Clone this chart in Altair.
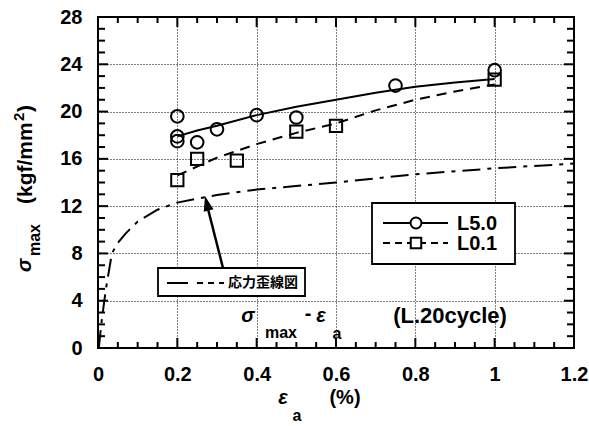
import altair as alt
import pandas as pd

# Measured maximum stress (kgf/mm2) against strain amplitude (%)
l50_strain = [0.2, 0.2, 0.2, 0.25, 0.3, 0.4, 0.5, 0.75, 1.0]
l50_stress = [19.6, 17.9, 17.5, 17.4, 18.5, 19.7, 19.5, 22.2, 23.5]
l01_strain = [0.2, 0.25, 0.35, 0.5, 0.6, 1.0]
l01_stress = [14.2, 16.0, 15.85, 18.3, 18.8, 22.7]

# Trend curves
l50_fit_strain = [0.2, 0.25, 0.3, 0.4, 0.5, 0.6, 0.7, 0.8, 0.9, 1.0]
l50_fit_stress = [17.9, 18.4, 18.8, 19.7, 20.4, 21.0, 21.6, 22.1, 22.45, 22.75]
l01_fit_strain = [0.2, 0.3, 0.4, 0.5, 0.6, 0.7, 0.8, 0.9, 1.0]
l01_fit_stress = [14.6, 16.1, 17.25, 18.2, 19.0, 20.1, 21.0, 21.7, 22.3]

# Monotonic stress-strain curve
ss_strain = [0.002, 0.01, 0.02, 0.03, 0.035, 0.05, 0.07, 0.1, 0.15, 0.2, 0.3, 0.4, 0.6, 0.8, 1.0, 1.2]
ss_stress = [0.0, 2.5, 5.0, 7.0, 8.0, 8.9, 9.7, 10.7, 11.7, 12.3, 12.95, 13.4, 14.0, 14.7, 15.2, 15.6]

# Axis ticks
x_major = [0, 0.2, 0.4, 0.6, 0.8, 1.0, 1.2]
y_major = [0, 4, 8, 12, 16, 20, 24, 28]
x_minor = [0.05, 0.1, 0.15, 0.25, 0.3, 0.35, 0.45, 0.5, 0.55, 0.65, 0.7, 0.75,
           0.85, 0.9, 0.95, 1.05, 1.1, 1.15]
y_minor = [v for v in range(1, 28) if v % 4 != 0]

W, H = 476, 331
LEFT, TOP = 98, 17
FONT = "Liberation Sans"
CJK = "Noto Sans CJK JP"


def px(x):
    return x - LEFT


def py(y):
    return y - TOP


xscale = alt.Scale(domain=[0, 1.2], nice=False, zero=False)
yscale = alt.Scale(domain=[0, 28], nice=False, zero=False)

xaxis = alt.Axis(values=x_major, format="~g", grid=True, gridDash=[1, 2], gridColor="black",
                 gridOpacity=1, gridWidth=1, ticks=False, tickSize=0, domain=False,
                 labelFont=FONT, labelFontSize=20, labelFontWeight="bold", labelColor="black",
                 labelPadding=16, title=None, labelFlush=False)
yaxis = alt.Axis(values=y_major, grid=True, gridDash=[1, 2], gridColor="black",
                 gridOpacity=1, gridWidth=1, ticks=False, tickSize=0, domain=False,
                 labelFont=FONT, labelFontSize=20, labelFontWeight="bold", labelColor="black",
                 labelPadding=16, title=None, labelFlush=False)


def X(field):
    return alt.X(field, type="quantitative", scale=xscale, axis=xaxis)


def Y(field):
    return alt.Y(field, type="quantitative", scale=yscale, axis=yaxis)


pts50 = pd.DataFrame({"x": l50_strain, "y": l50_stress})
pts01 = pd.DataFrame({"x": l01_strain, "y": l01_stress})
fit50 = pd.DataFrame({"x": l50_fit_strain, "y": l50_fit_stress})
fit01 = pd.DataFrame({"x": l01_fit_strain, "y": l01_fit_stress})
ss = pd.DataFrame({"x": ss_strain, "y": ss_stress})

layers = []

# curves
layers.append(alt.Chart(ss).mark_line(color="black", strokeWidth=2, strokeDash=[18, 7, 4, 7])
              .encode(x=X("x"), y=Y("y"), order="x:Q"))
layers.append(alt.Chart(fit01).mark_line(color="black", strokeWidth=2, strokeDash=[10, 7])
              .encode(x=X("x"), y=Y("y")))
layers.append(alt.Chart(fit50).mark_line(color="black", strokeWidth=2)
              .encode(x=X("x"), y=Y("y")))

# markers
layers.append(alt.Chart(pts50).mark_point(shape="circle", filled=False, color="black",
                                          strokeWidth=2, size=160, opacity=1)
              .encode(x=X("x"), y=Y("y")))
layers.append(alt.Chart(pts01).mark_point(shape="square", filled=False, color="black",
                                          strokeWidth=2, size=150, opacity=1)
              .encode(x=X("x"), y=Y("y")))


# inward ticks on all four sides
def xticks(vals, length):
    d = pd.DataFrame({"t": vals})
    out = []
    for yc in (H - length / 2, length / 2):
        out.append(alt.Chart(d).mark_tick(color="black", orient="vertical", size=length,
                                          thickness=2, opacity=1)
                   .encode(x=X("t"), y=alt.value(yc)))
    return out


def yticks(vals, length):
    d = pd.DataFrame({"t": vals})
    out = []
    for xc in (length / 2, W - length / 2):
        out.append(alt.Chart(d).mark_tick(color="black", orient="horizontal", size=length,
                                          thickness=2, opacity=1)
                   .encode(y=Y("t"), x=alt.value(xc)))
    return out


layers += xticks(x_major, 10) + xticks(x_minor, 6)
layers += yticks(y_major, 10) + yticks(y_minor, 7)

one = pd.DataFrame({"k": [0]})


def rect(x1, y1, x2, y2, sw=1.8):
    return alt.Chart(one).mark_rect(fill="white", stroke="black", strokeWidth=sw).encode(
        x=alt.value(px(x1)), x2=alt.value(px(x2)), y=alt.value(py(y1)), y2=alt.value(py(y2)))


def hline(x1, x2, y, dash=None, sw=2):
    kw = {"color": "black", "strokeWidth": sw}
    if dash:
        kw["strokeDash"] = dash
    return alt.Chart(one).mark_rule(**kw).encode(
        x=alt.value(px(x1)), x2=alt.value(px(x2)), y=alt.value(py(y)))


def text(s, x, y, size=20, align="center", baseline="middle", style="normal",
         weight="bold", angle=0, font=FONT):
    return alt.Chart(one).mark_text(text=s, font=font, fontSize=size, fontWeight=weight,
                                    fontStyle=style, align=align, baseline=baseline,
                                    angle=angle, color="black").encode(
        x=alt.value(px(x)), y=alt.value(py(y)))


# series key
layers.append(rect(372, 203, 515, 264))
layers.append(hline(383, 448, 223))
layers.append(alt.Chart(one).mark_point(shape="circle", filled=True, fill="white", stroke="black",
                                        strokeWidth=2, size=120, opacity=1)
              .encode(x=alt.value(px(416)), y=alt.value(py(223))))
layers.append(text("L5.0", 457, 224, align="left"))
layers.append(hline(383, 448, 243, dash=[7, 5]))
layers.append(alt.Chart(one).mark_point(shape="square", filled=True, fill="white", stroke="black",
                                        strokeWidth=2, size=110, opacity=1)
              .encode(x=alt.value(px(416)), y=alt.value(py(243))))
layers.append(text("L0.1", 457, 244, align="left"))

# stress-strain curve key with arrow
layers.append(alt.Chart(one).mark_rule(color="black", strokeWidth=2.5).encode(
    x=alt.value(px(223)), x2=alt.value(px(207)), y=alt.value(py(268)), y2=alt.value(py(205))))
layers.append(alt.Chart(one).mark_point(shape="M0,0L0.5,1.5L-0.5,1.5Z", filled=True,
                                        color="black", size=400, angle=346, opacity=1)
              .encode(x=alt.value(px(205)), y=alt.value(py(196))))
layers.append(rect(158, 268, 305, 296))
layers.append(hline(167, 188, 283))
layers.append(hline(197, 224, 283, dash=[6, 5]))
layers.append(text("応力歪線図", 228, 283, size=14, align="left", font=CJK, weight="bold"))

# curve label inside the plot
layers.append(text("σ", 248, 316, style="italic"))
layers.append(text("max", 281, 333, size=16))
layers.append(text("-", 308, 314))
layers.append(text("ε", 321, 316, style="italic"))
layers.append(text("a", 337, 334, size=16))
layers.append(text("(L.20cycle)", 450, 316, size=22))

# axis titles
layers.append(text("ε", 283, 398, style="italic"))
layers.append(text("a", 297, 416, size=16))
layers.append(text("(%)", 345, 398))

layers.append(text("σ", 31, 272, align="left", baseline="alphabetic", angle=270, style="italic"))
layers.append(text("max", 40, 256, size=16, align="left", baseline="alphabetic", angle=270))
layers.append(text("(kgf/mm", 32, 204, size=21, align="left", baseline="alphabetic", angle=270))
layers.append(text("2", 24, 121, size=15, align="left", baseline="alphabetic", angle=270))
layers.append(text(")", 32, 112, size=21, align="left", baseline="alphabetic", angle=270))

chart = alt.layer(*layers).properties(
    width=W, height=H,
    autosize=alt.AutoSizeParams(type="none"),
    padding={"left": LEFT, "top": TOP, "right": 589 - LEFT - W, "bottom": 426 - TOP - H},
    background="white",
).configure_view(stroke="black", strokeWidth=2)

chart.save("out.html", embed_options={"renderer": "svg", "actions": False})
